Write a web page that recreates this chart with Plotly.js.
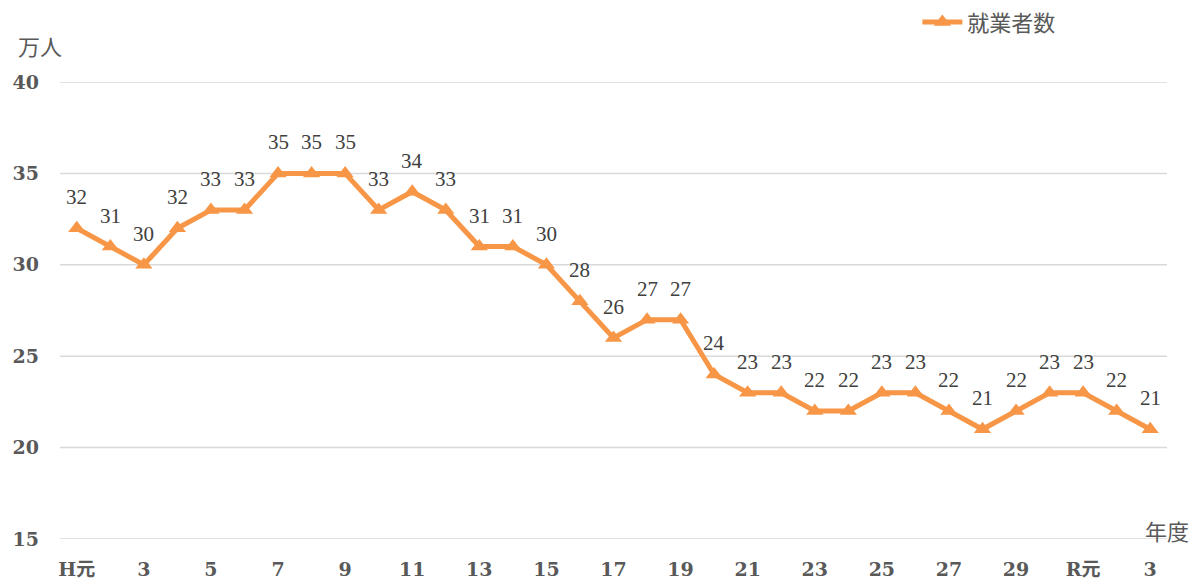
<!DOCTYPE html>
<html>
<head>
<meta charset="utf-8">
<script src="https://cdn.plot.ly/plotly-3.0.1.min.js"></script>
<style>html,body{margin:0;padding:0;background:#fff;}#chart{width:1200px;height:583px;}</style>
</head>
<body>
<div id="chart"></div>
<script>
const categories = ["H元","H2","H3","H4","H5","H6","H7","H8","H9","H10","H11","H12","H13","H14","H15","H16","H17","H18","H19","H20","H21","H22","H23","H24","H25","H26","H27","H28","H29","H30","R元","R2","R3"];
const workers = [32,31,30,32,33,33,35,35,35,33,34,33,31,31,30,28,26,27,27,24,23,23,22,22,23,23,22,21,22,23,23,22,21];
const tickLabels = ["H元","3","5","7","9","11","13","15","17","19","21","23","25","27","29","R元","3"];
const yTicks = [15, 20, 25, 30, 35, 40];
const seriesName = "就業者数";

const xIdx = categories.map((c, i) => i);
const tickVals = tickLabels.map((t, k) => k * 2);

const serif = "'DejaVu Serif', 'Liberation Serif', 'Noto Sans CJK JP', serif";
const labelSerif = "'Liberation Serif', 'DejaVu Serif', serif";
const cjk = "'Noto Sans CJK JP', sans-serif";

const trace = {
  x: xIdx,
  y: workers,
  name: seriesName,
  type: 'scatter',
  mode: 'lines+markers',
  line: {color: '#F79646', width: 5},
  marker: {symbol: 'triangle-up', size: 15, color: '#F79646'},
  hoverinfo: 'skip'
};

const labelAnns = workers.map((v, i) => ({
  x: i, y: v, xref: 'x', yref: 'y',
  text: String(v), showarrow: false, yshift: 31,
  font: {family: labelSerif, size: 21, color: '#404040'}
}));

// gridlines drawn as shapes so the edge lines (15, 40) are visible too
const gridShapes = yTicks.map(v => ({
  type: 'line', xref: 'paper', yref: 'y', x0: 0, x1: 1, y0: v, y1: v,
  line: {color: '#D9D9D9', width: 1.5}, layer: 'below'
}));

const layout = {
  width: 1200, height: 583,
  margin: {l: 60, r: 33, t: 82, b: 44, autoexpand: false},
  paper_bgcolor: '#fff', plot_bgcolor: '#fff',
  showlegend: true,
  legend: {
    x: 0.7745, y: 1.131, xanchor: 'left', yanchor: 'middle',
    orientation: 'h',
    font: {family: cjk, size: 22, color: '#595959'},
    bgcolor: 'rgba(0,0,0,0)',
    itemwidth: 40
  },
  xaxis: {
    range: [-0.5, 32.5],
    tickvals: tickVals, ticktext: tickLabels,
    showgrid: false, zeroline: false, showline: false,
    ticks: '', ticklen: 0, ticklabelstandoff: 17,
    tickfont: {family: serif, size: 19, color: '#595959', weight: 'bold'},
    fixedrange: true
  },
  yaxis: {
    range: [15, 40],
    tickvals: yTicks,
    showgrid: false,
    zeroline: false, showline: false, ticks: '', ticklabelstandoff: 20,
    tickfont: {family: serif, size: 19, color: '#595959', weight: 'bold'},
    fixedrange: true
  },
  shapes: gridShapes,
  annotations: labelAnns.concat([
    {xref: 'paper', yref: 'paper', x: -0.04, y: 1.081, xanchor: 'left', yanchor: 'middle',
     text: '万人', showarrow: false, font: {family: cjk, size: 22, color: '#595959'}},
    {xref: 'paper', yref: 'paper', x: 1.0, y: 0.02, xanchor: 'left', yanchor: 'middle',
     xshift: -24,
     text: '年度', showarrow: false, font: {family: cjk, size: 22, color: '#595959'}}
  ])
};

Plotly.newPlot('chart', [trace], layout, {displayModeBar: false, staticPlot: true});
</script>
</body>
</html>
